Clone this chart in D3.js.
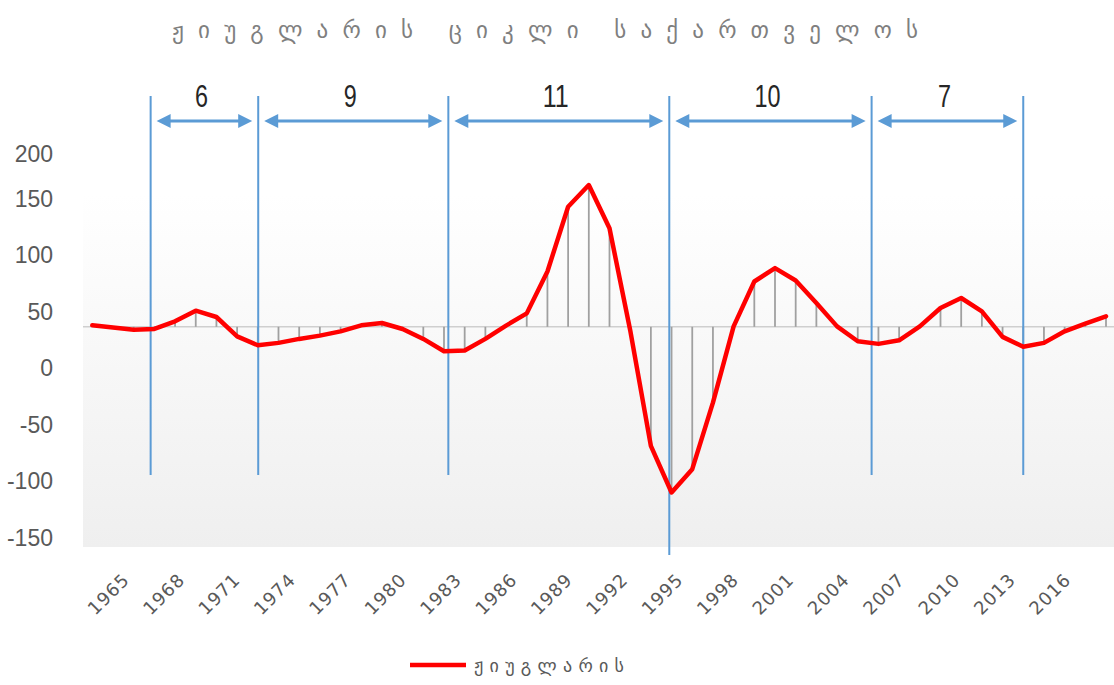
<!DOCTYPE html>
<html>
<head>
<meta charset="utf-8">
<script src="https://cdn.jsdelivr.net/npm/d3@7"></script>
<style>
  html, body { margin: 0; padding: 0; background: #fff; }
  svg { display: block; }
</style>
</head>
<body>
<svg id="chart" width="1114" height="685"></svg>
<script>
// Juglar cycle component, one value per year
const years = d3.range(1967, 2017);
const values = [
  37.3, 35.3, 33.5, 34.1, 40.9, 50.3, 44.7, 27.6, 19.7, 21.8,
  25.3, 28.2, 32.0, 37.3, 39.4, 34.1, 25.3, 14.4, 15.0, 25.3,
  37.1, 47.9, 85.0, 142.3, 164.4, 123.2, 33.0, -69.4, -110.6, -90.0,
  -31.1, 36.4, 76.1, 88.0, 77.0, 57.1, 36.4, 23.2, 20.9, 24.1,
  36.4, 52.7, 61.5, 49.7, 27.1, 18.3, 21.8, 32.0, 38.8, 45.3
];
// value where the category axis crosses (drop lines end here)
const axisCross = 36;

// cycle boundaries (troughs) and the length written over each cycle
const cycleBounds = [1969.82, 1975.02, 1984.21, 1994.89, 2004.67, 2012.0];
const cycleLengths = ["6", "9", "11", "10", "7"];
// the boundary that runs down through the axis labels
const longBound = 1994.89;

const yTicks = [200, 150, 100, 50, 0, -50, -100, -150];
const xTickLabels = ["1965", "1968", "1971", "1974", "1977", "1980", "1983", "1986", "1989",
                     "1992", "1995", "1998", "2001", "2004", "2007", "2010", "2013", "2016"];

const titleText = "ჟიუგლარის ციკლი საქართველოს";
const seriesName = "ჟიუგლარის";

const svg = d3.select("#chart");
const plot = { left: 83, right: 1114, top: 195, bottom: 547 };

const x = d3.scaleLinear().domain([1967, 2016]).range([92.3, 1106]);
const y = d3.scaleLinear().domain([-150, 150, 200]).range([537, 198, 153]);
const xLabel = d3.scalePoint().domain(xTickLabels).range([108.5, 1050]);

// plot area background
const defs = svg.append("defs");
const grad = defs.append("linearGradient").attr("id", "plotBg")
  .attr("x1", 0).attr("y1", 0).attr("x2", 0).attr("y2", 1);
grad.append("stop").attr("offset", "0%").attr("stop-color", "#ffffff");
grad.append("stop").attr("offset", "100%").attr("stop-color", "#efefef");
svg.append("rect")
  .attr("x", plot.left).attr("y", plot.top)
  .attr("width", plot.right - plot.left).attr("height", plot.bottom - plot.top)
  .attr("fill", "url(#plotBg)");

// title
svg.append("text")
  .attr("x", 172).attr("y", 38)
  .attr("textLength", 746).attr("lengthAdjust", "spacing")
  .attr("font-family", "DejaVu Sans").attr("font-size", 23)
  .attr("fill", "#7f7f7f")
  .text(titleText);

// value axis labels
const yAxis = d3.axisLeft(y).tickValues(yTicks).tickSize(0).tickPadding(0)
  .tickFormat(d => String(d));
const gy = svg.append("g").attr("transform", "translate(53,0)").call(yAxis);
gy.select(".domain").remove();
gy.selectAll("text")
  .attr("font-family", "Liberation Sans, Arial, sans-serif")
  .attr("font-size", 23).attr("fill", "#595959")
  .attr("dy", "0.35em");

// year labels
const gx = svg.append("g").attr("transform", "translate(0,594)");
gx.selectAll("text").data(xTickLabels).join("text")
  .attr("x", d => xLabel(d)).attr("y", 0)
  .attr("transform", d => `rotate(-45,${xLabel(d)},0)`)
  .attr("text-anchor", "middle").attr("dy", "0.35em")
  .attr("font-family", "DejaVu Sans").attr("font-size", 18)
  .attr("letter-spacing", 1)
  .attr("fill", "#595959")
  .text(d => d);

// horizontal axis line
svg.append("line")
  .attr("x1", plot.left).attr("x2", plot.right)
  .attr("y1", y(axisCross)).attr("y2", y(axisCross))
  .attr("stroke", "#cfcfcf").attr("stroke-width", 1.5);

// drop lines
svg.append("g").selectAll("line").data(values).join("line")
  .attr("x1", (d, i) => x(years[i])).attr("x2", (d, i) => x(years[i]))
  .attr("y1", d => y(d)).attr("y2", y(axisCross))
  .attr("stroke", "#a0a0a0").attr("stroke-width", 1.8);

// cycle boundary lines
svg.append("g").selectAll("line").data(cycleBounds).join("line")
  .attr("x1", d => x(d)).attr("x2", d => x(d))
  .attr("y1", 96).attr("y2", d => d === longBound ? 555 : 475)
  .attr("stroke", "#5b9bd5").attr("stroke-width", 2);

// series line
const line = d3.line().x((d, i) => x(years[i])).y(d => y(d));
svg.append("path").datum(values)
  .attr("d", line)
  .attr("fill", "none").attr("stroke", "#ff0000")
  .attr("stroke-width", 4.5).attr("stroke-linejoin", "round").attr("stroke-linecap", "round");

// double-headed arrows with cycle lengths
const arrowY = 121;
const head = 14, halfW = 7;
const gA = svg.append("g");
cycleLengths.forEach((len, k) => {
  const a = x(cycleBounds[k]) + 6;
  const b = x(cycleBounds[k + 1]) - 6;
  gA.append("line")
    .attr("x1", a + head - 2).attr("x2", b - head + 2)
    .attr("y1", arrowY).attr("y2", arrowY)
    .attr("stroke", "#5b9bd5").attr("stroke-width", 3);
  gA.append("path")
    .attr("d", `M${a},${arrowY} L${a + head},${arrowY - halfW} L${a + head},${arrowY + halfW} Z`)
    .attr("fill", "#5b9bd5");
  gA.append("path")
    .attr("d", `M${b},${arrowY} L${b - head},${arrowY - halfW} L${b - head},${arrowY + halfW} Z`)
    .attr("fill", "#5b9bd5");
  gA.append("text")
    .attr("x", (x(cycleBounds[k]) + x(cycleBounds[k + 1])) / 2 - 3 - len.length * 6.5)
    .attr("y", 107)
    .attr("textLength", len.length * 13).attr("lengthAdjust", "spacingAndGlyphs")
    .attr("font-family", "Liberation Sans, Arial, sans-serif")
    .attr("font-size", 31).attr("fill", "#262626")
    .text(len);
});

// legend
svg.append("line")
  .attr("x1", 410).attr("x2", 466).attr("y1", 665).attr("y2", 665)
  .attr("stroke", "#ff0000").attr("stroke-width", 4.5);
svg.append("text")
  .attr("x", 474).attr("y", 672)
  .attr("textLength", 150).attr("lengthAdjust", "spacing")
  .attr("font-family", "DejaVu Sans").attr("font-size", 18)
  .attr("fill", "#595959")
  .text(seriesName);
</script>
</body>
</html>
